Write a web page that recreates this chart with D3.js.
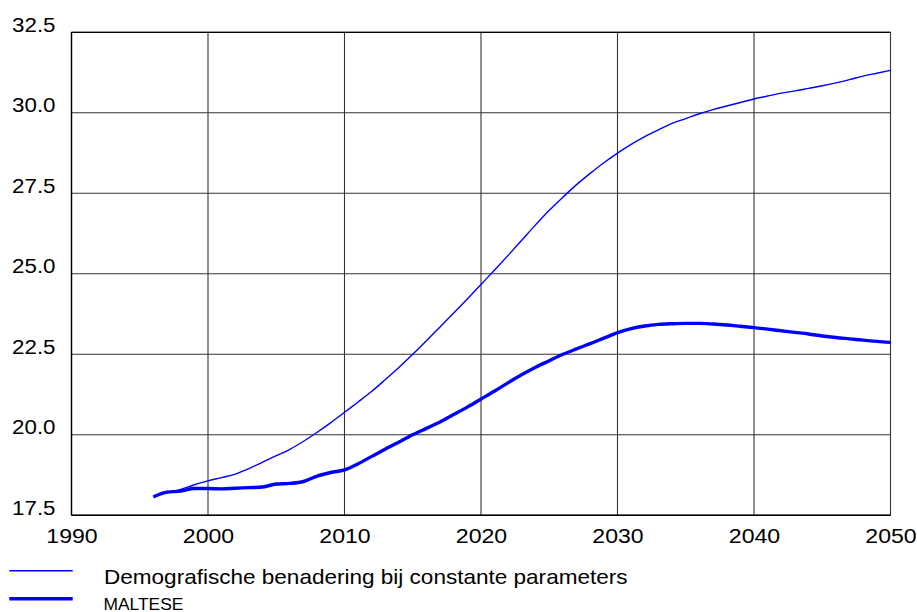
<!DOCTYPE html>
<html>
<head>
<meta charset="utf-8">
<script src="https://cdn.jsdelivr.net/npm/d3@7"></script>
<style>
  html, body { margin: 0; padding: 0; background: #fff; }
  svg { display: block; font-family: "Liberation Sans", Arial, sans-serif; }
</style>
</head>
<body>
<svg id="chart" width="917" height="612"></svg>
<script>
// Years shared by both series
const years = d3.range(1996, 2051);

// Demografische benadering bij constante parameters
const demografisch = [
  18.10, 18.20, 18.30, 18.45, 18.57, 18.67, 18.78, 18.95, 19.15, 19.35,
  19.55, 19.80, 20.08, 20.38, 20.70, 21.02, 21.35, 21.72, 22.10, 22.50,
  22.92, 23.35, 23.78, 24.22, 24.67, 25.12, 25.58, 26.05, 26.52, 26.97,
  27.38, 27.77, 28.12, 28.45, 28.75, 29.02, 29.26, 29.47, 29.67, 29.82,
  29.97, 30.10, 30.21, 30.32, 30.43, 30.52, 30.61, 30.68, 30.76, 30.84,
  30.93, 31.03, 31.14, 31.23, 31.32
];

// MALTESE
const maltese = [
  18.07, 18.22, 18.25, 18.33, 18.33, 18.32, 18.34, 18.36, 18.38, 18.47,
  18.49, 18.55, 18.72, 18.83, 18.91, 19.10, 19.33, 19.56, 19.78, 20.00,
  20.20, 20.40, 20.63, 20.86, 21.11, 21.36, 21.62, 21.87, 22.10, 22.30,
  22.50, 22.67, 22.83, 23.00, 23.17, 23.30, 23.38, 23.43, 23.45, 23.46,
  23.46, 23.44, 23.41, 23.37, 23.33, 23.28, 23.23, 23.18, 23.13, 23.07,
  23.02, 22.98, 22.94, 22.90, 22.87
];

const xTicks = [1990, 2000, 2010, 2020, 2030, 2040, 2050];
const yTicks = [17.5, 20.0, 22.5, 25.0, 27.5, 30.0, 32.5];

const seriesNames = ["Demografische benadering bij constante parameters", "MALTESE"];

const svg = d3.select("#chart");

const plot = { left: 71.5, right: 890.5, top: 32.3, bottom: 515.3 };
const stretch = 1.1; // labels are set slightly wide

const x = d3.scaleLinear().domain([1990, 2050]).range([plot.left, plot.right]);
const y = d3.scaleLinear().domain([17.5, 32.5]).range([plot.bottom, plot.top]);

// Grid
const grid = svg.append("g");
grid.selectAll("line.v").data(xTicks).join("line")
  .attr("x1", d => x(d)).attr("x2", d => x(d))
  .attr("y1", plot.top).attr("y2", plot.bottom)
  .attr("stroke", "#333").attr("stroke-width", 1.1);
grid.selectAll("line.h").data(yTicks).join("line")
  .attr("x1", plot.left).attr("x2", plot.right)
  .attr("y1", d => y(d)).attr("y2", d => y(d))
  .attr("stroke", "#333").attr("stroke-width", 1.1);

// Axes lines
svg.append("line")
  .attr("x1", plot.left).attr("x2", plot.left)
  .attr("y1", plot.top).attr("y2", plot.bottom)
  .attr("stroke", "#000").attr("stroke-width", 1.4);
svg.append("line")
  .attr("x1", plot.left).attr("x2", plot.right)
  .attr("y1", plot.bottom).attr("y2", plot.bottom)
  .attr("stroke", "#000").attr("stroke-width", 1.4);
svg.append("line")
  .attr("x1", plot.left).attr("x2", plot.right)
  .attr("y1", plot.top).attr("y2", plot.top)
  .attr("stroke", "#000").attr("stroke-width", 1.2);

// Tick labels
svg.append("g").selectAll("text").data(yTicks).join("text")
  .attr("transform", d => `translate(55.5,${y(d) - 0.5}) scale(${stretch},1)`)
  .attr("text-anchor", "end")
  .attr("font-size", 20.3)
  .attr("fill", "#000")
  .text(d => d3.format(".1f")(d));

svg.append("g").selectAll("text").data(xTicks).join("text")
  .attr("transform", d => `translate(${x(d) + 0.5},542.7) scale(${stretch},1)`)
  .attr("text-anchor", "middle")
  .attr("font-size", 21)
  .attr("fill", "#000")
  .text(d => d);

// Lines
const line = values => d3.line()
  .x((d, i) => x(years[i]))
  .y(d => y(d))
  .curve(d3.curveMonotoneX)(values);

svg.append("path")
  .attr("d", line(demografisch))
  .attr("fill", "none")
  .attr("stroke", "#0000ff")
  .attr("stroke-width", 1.4);

svg.append("path")
  .attr("d", line(maltese))
  .attr("fill", "none")
  .attr("stroke", "#0000ff")
  .attr("stroke-width", 3.4);

// Legend
const legend = svg.append("g");
legend.append("line")
  .attr("x1", 9.3).attr("x2", 72.7).attr("y1", 570.7).attr("y2", 570.7)
  .attr("stroke", "#0000ff").attr("stroke-width", 1.6);
legend.append("text")
  .attr("transform", `translate(104,584) scale(${stretch},1)`)
  .attr("font-size", 20.5).attr("fill", "#000")
  .text(seriesNames[0]);
legend.append("line")
  .attr("x1", 9.3).attr("x2", 72.7).attr("y1", 598.7).attr("y2", 598.7)
  .attr("stroke", "#0000ff").attr("stroke-width", 3.6);
legend.append("text")
  .attr("x", 103.5).attr("y", 610.3)
  .attr("font-size", 17.4).attr("fill", "#000")
  .text(seriesNames[1]);
</script>
</body>
</html>
